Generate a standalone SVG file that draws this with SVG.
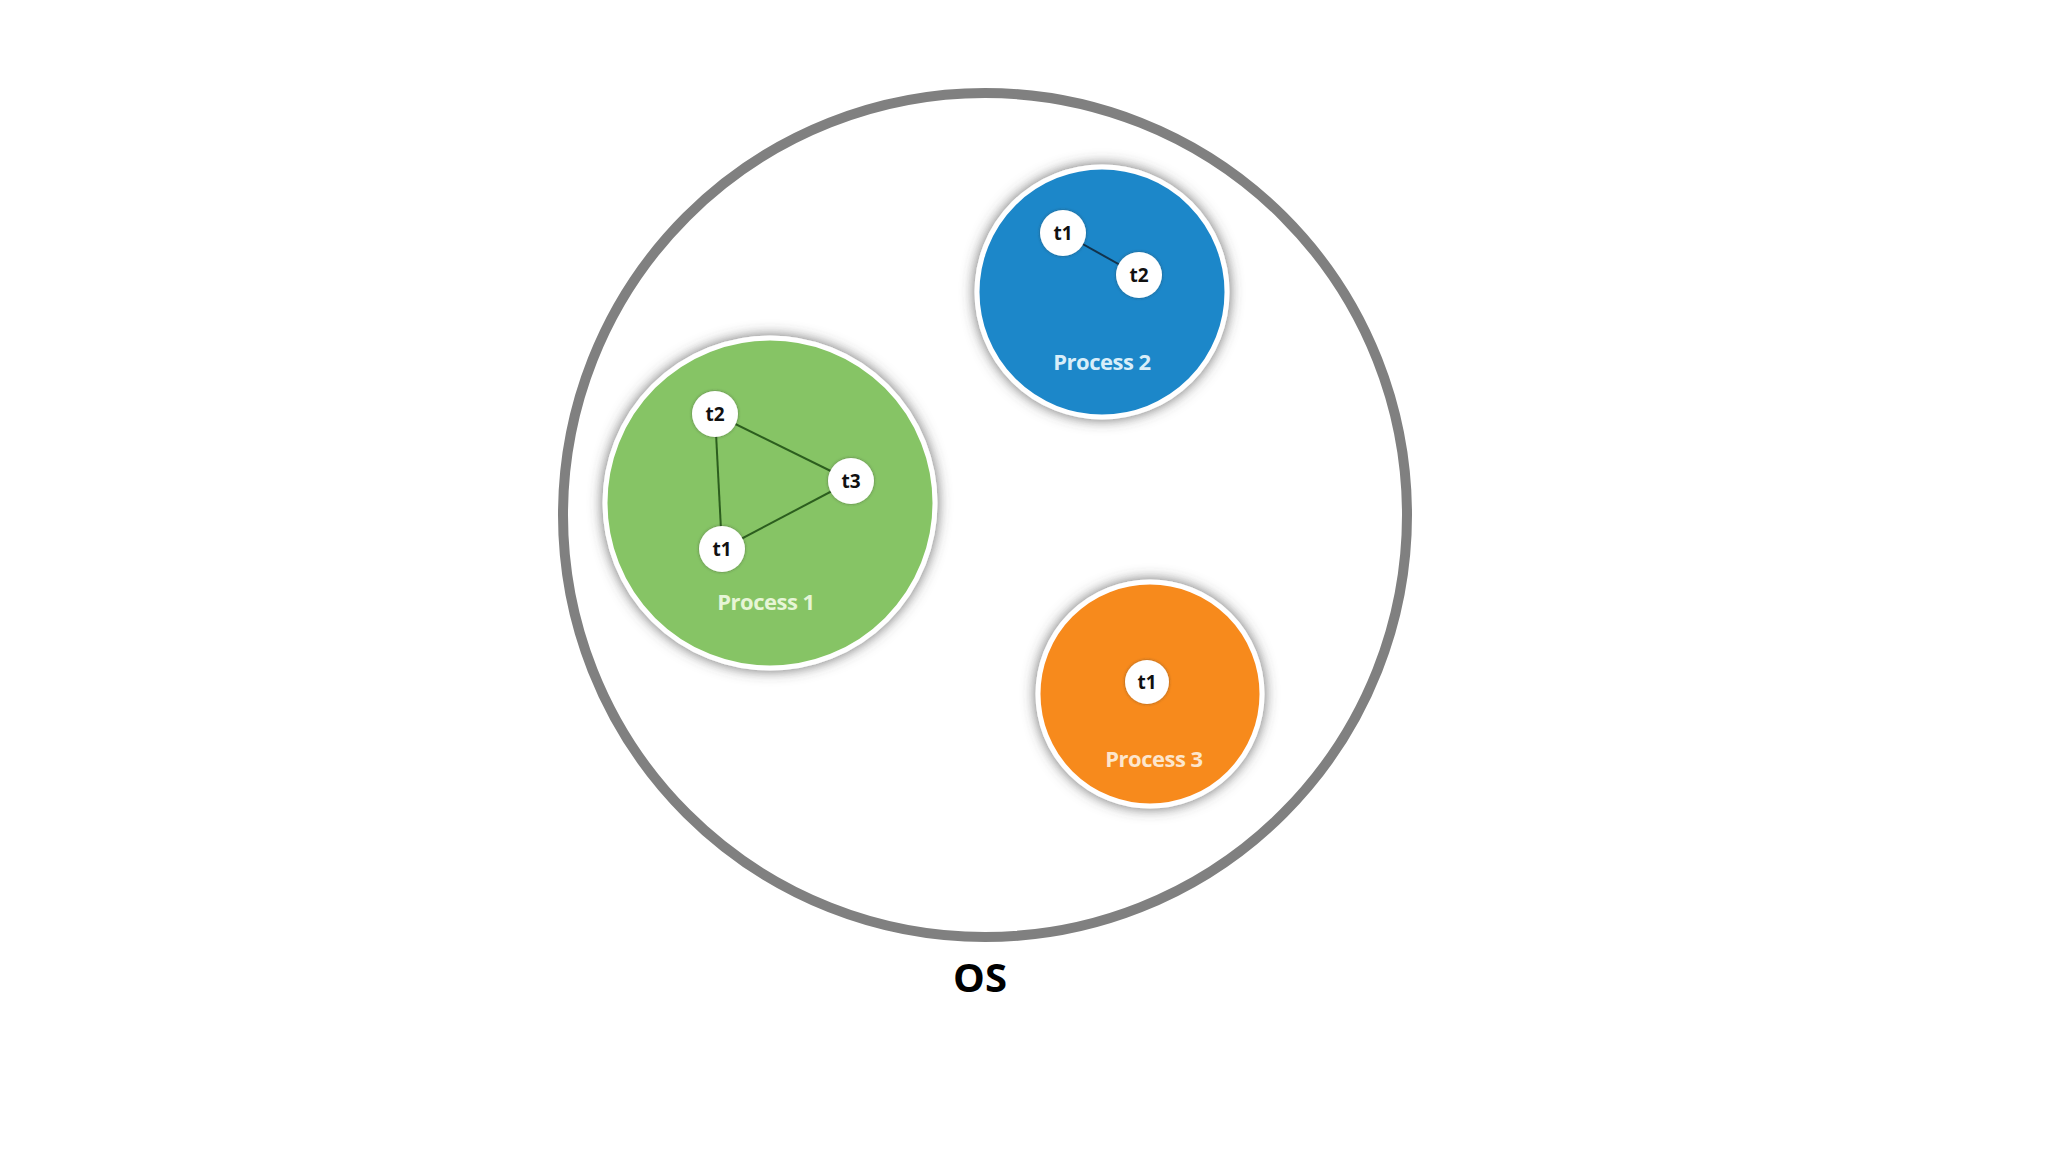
<svg xmlns="http://www.w3.org/2000/svg" width="2048" height="1152" viewBox="0 0 2048 1152">
<defs>
<filter id="sh" x="-20%" y="-20%" width="140%" height="140%">
<feDropShadow dx="0" dy="0" stdDeviation="7" flood-color="#444" flood-opacity="0.8"/>
</filter>
<filter id="tsh" x="-30%" y="-30%" width="160%" height="160%">
<feDropShadow dx="0" dy="0" stdDeviation="1.5" flood-color="#333" flood-opacity="0.5"/>
</filter>
</defs>
<style>
.proc{stroke:#fff;stroke-width:5;filter:url(#sh)}
.thr{fill:#fff;filter:url(#tsh)}
.tl{font-family:"Open Sans","DejaVu Sans",sans-serif;font-weight:700;font-size:19px;fill:#111;text-anchor:middle}
.pl{font-family:"Open Sans","DejaVu Sans",sans-serif;font-weight:700;font-size:22px;text-anchor:middle;letter-spacing:-0.5px}
.edge{stroke-width:2;fill:none}
</style>
<rect width="2048" height="1152" fill="#fff"/>
<g id="os">
<circle cx="985" cy="515" r="422" fill="none" stroke="#808080" stroke-width="10"/>
<text x="980" y="992" font-family="'Open Sans','DejaVu Sans',sans-serif" font-weight="700" font-size="40" text-anchor="middle" fill="#000">OS</text>
</g>
<g id="process1">
<circle class="proc" cx="770" cy="503" r="165" fill="#86c465"/>
<text class="pl" x="766" y="610" fill="#e6f5d6">Process 1</text>
</g>
<g id="process2">
<circle class="proc" cx="1102" cy="292" r="125" fill="#1f87c9"/>
<text class="pl" x="1102" y="370" fill="#d8eef9">Process 2</text>
</g>
<g id="process3">
<circle class="proc" cx="1150" cy="694" r="112" fill="#f78a1f"/>
<text class="pl" x="1154" y="767" fill="#fde6cc">Process 3</text>
</g>
<g id="connectors">
<line class="edge" stroke="#2c5e1e" x1="715" y1="414" x2="722" y2="549"/>
<line class="edge" stroke="#2c5e1e" x1="715" y1="414" x2="851" y2="481"/>
<line class="edge" stroke="#2c5e1e" x1="722" y1="549" x2="851" y2="481"/>
<line class="edge" stroke="#12334d" x1="1063" y1="233" x2="1138" y2="275"/>
</g>
<g id="p1-t2"><circle class="thr" cx="715" cy="414" r="23"/><text class="tl" x="715" y="421">t2</text></g>
<g id="p1-t3"><circle class="thr" cx="851" cy="481" r="23"/><text class="tl" x="851" y="488">t3</text></g>
<g id="p1-t1"><circle class="thr" cx="722" cy="549" r="23"/><text class="tl" x="722" y="556">t1</text></g>
<g id="p2-t1"><circle class="thr" cx="1063" cy="233" r="23"/><text class="tl" x="1063" y="240">t1</text></g>
<g id="p2-t2"><circle class="thr" cx="1139" cy="275" r="23"/><text class="tl" x="1139" y="282">t2</text></g>
<g id="p3-t1"><circle class="thr" cx="1147" cy="682" r="22"/><text class="tl" x="1147" y="689">t1</text></g>
</svg>
